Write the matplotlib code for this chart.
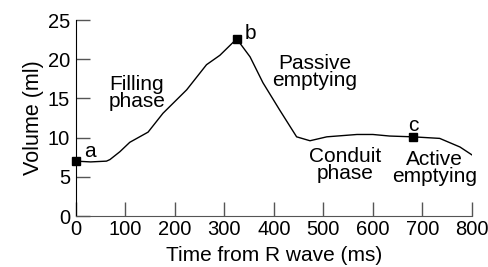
import numpy as np
import matplotlib
matplotlib.use('Agg')
import matplotlib.pyplot as plt

plt.rcParams['font.family'] = ['Liberation Sans', 'DejaVu Sans']

# volume curve
time_ms = [0, 30, 62, 69, 89, 109, 146, 176, 224, 264, 291, 325,
           352, 378, 412, 446, 473, 507, 568, 600, 634, 681, 735, 776, 800]
volume_ml = [7.0, 6.9, 7.0, 7.2, 8.2, 9.4, 10.7, 13.1, 16.1, 19.3, 20.5, 22.6,
             20.3, 17.0, 13.5, 10.1, 9.6, 10.1, 10.4, 10.4, 10.2, 10.1, 9.9, 8.8, 7.8]

point_t = [0, 325, 681]
point_v = [7.0, 22.6, 10.1]
point_names = ['a', 'b', 'c']
name_t = [28, 352, 681]
name_v = [8.2, 23.3, 11.6]

phase_labels = ['Filling\nphase', 'Passive\nemptying', 'Conduit\nphase', 'Active\nemptying']
phase_t = [123, 483, 543, 725]
phase_v = [15.7, 18.4, 6.5, 6.1]

fig = plt.figure(figsize=(4.89, 2.67), dpi=100)
ax = fig.add_axes([0.155, 0.191, 0.81, 0.734])

ax.plot(time_ms, volume_ml, color='black', lw=1.0)
ax.plot(point_t, point_v, 's', color='black', ms=6, clip_on=False, zorder=5)
for n, t, v in zip(point_names, name_t, name_v):
    ax.text(t, v, n, fontsize=15, ha='center', va='center')
for s, t, v in zip(phase_labels, phase_t, phase_v):
    ax.text(t, v, s, fontsize=15, ha='center', va='center', linespacing=0.9)

ax.set_xlim(0, 800)
ax.set_ylim(0, 25)
ax.set_xticks(np.arange(0, 801, 100))
ax.set_yticks(np.arange(0, 26, 5))
ax.spines['top'].set_visible(False)
ax.spines['right'].set_visible(False)
ax.spines['bottom'].set_color('#555555')
ax.tick_params(axis='both', direction='in', length=10, width=1, labelsize=14.5,
               colors='#555555', labelcolor='black')
ax.tick_params(axis='x', pad=3)
ax.tick_params(axis='y', pad=4)
ax.set_xlabel('Time from R wave (ms)', fontsize=15, labelpad=5)
ax.set_ylabel('Volume (ml)', fontsize=15.5, labelpad=3)

fig.savefig('out.png', dpi=100)
